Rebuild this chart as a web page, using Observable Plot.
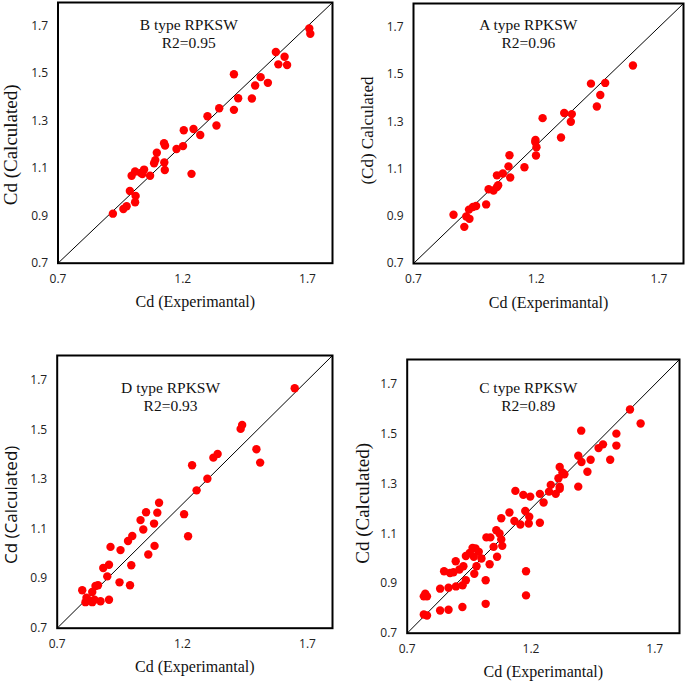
<!DOCTYPE html>
<html><head><meta charset="utf-8">
<script src="https://cdn.jsdelivr.net/npm/d3@7"></script>
<script src="https://cdn.jsdelivr.net/npm/@observablehq/plot@0.6"></script>
<style>
body{margin:0;background:#fff}
#chart{position:relative;width:685px;height:685px;overflow:hidden;background:#fff}
#chart svg{position:absolute}
</style>
</head><body><div id="chart"></div>
<script>
// ---- data ----
const bExp  = [0.920,0.962,0.975,0.988,0.995,1.009,1.011,1.009,1.031,1.045,1.038,1.069,1.085,1.090,1.096,1.125,1.129,1.126,1.128,1.175,1.201,1.204,1.243,1.235,1.270,1.299,1.335,1.346,1.405,1.405,1.422,1.477,1.490,1.512,1.541,1.573,1.583,1.608,1.618,1.707,1.711];
const bCalc = [0.909,0.929,0.940,1.005,1.069,1.087,0.984,0.957,1.081,1.095,1.076,1.069,1.122,1.135,1.166,1.206,1.196,1.125,1.093,1.182,1.194,1.261,1.266,1.077,1.241,1.320,1.281,1.354,1.497,1.347,1.396,1.395,1.450,1.485,1.461,1.591,1.539,1.571,1.536,1.690,1.668];

const aExp  = [0.863,0.907,0.915,0.926,0.928,0.942,0.955,0.996,1.006,1.026,1.040,1.045,1.040,1.064,1.087,1.091,1.094,1.152,1.197,1.196,1.201,1.199,1.226,1.301,1.314,1.345,1.341,1.423,1.481,1.447,1.461,1.594];
const aCalc = [0.906,0.855,0.899,0.928,0.889,0.939,0.943,0.950,1.014,1.009,1.023,1.031,1.073,1.081,1.111,1.158,1.064,1.107,1.223,1.214,1.192,1.157,1.315,1.233,1.337,1.332,1.300,1.461,1.464,1.364,1.413,1.538];

const dExp  = [0.800,0.813,0.817,0.827,0.840,0.840,0.849,0.853,0.863,0.873,0.884,0.900,0.907,0.907,0.913,0.949,0.953,0.983,0.991,0.996,1.000,1.033,1.044,1.064,1.087,1.089,1.223,1.055,1.100,1.107,1.207,1.239,1.257,1.300,1.324,1.341,1.433,1.439,1.496,1.511,1.649];
const dCalc = [0.853,0.805,0.823,0.812,0.846,0.805,0.815,0.870,0.873,0.809,0.943,0.909,0.956,0.815,1.028,0.885,1.015,1.052,0.873,0.954,1.072,1.136,1.098,0.997,1.122,1.032,1.071,1.168,1.166,1.206,1.160,1.357,1.256,1.303,1.388,1.403,1.504,1.520,1.422,1.368,1.668];

const cExp  = [1.137,1.169,1.197,1.236,1.280,1.300,1.251,1.113,1.080,1.177,1.193,1.133,1.157,1.191,1.236,1.060,1.073,1.020,1.036,1.080,1.049,1.084,0.964,0.976,0.989,0.953,0.937,0.969,1.000,0.896,1.063,1.033,0.927,0.980,0.911,0.887,0.849,0.873,0.971,0.937,1.017,0.924,0.897,0.867,0.833,1.180,0.773,0.767,0.780,1.180,0.833,0.867,0.923,1.017,0.767,0.780,1.600,1.643,1.403,1.545,1.491,1.473,1.545,1.391,1.404,1.441,1.520,1.428,1.316,1.327,1.335,1.311,1.316,1.316,1.391,1.273];
const cCalc = [1.272,1.256,1.249,1.260,1.296,1.260,1.225,1.185,1.162,1.191,1.168,1.151,1.137,1.141,1.144,1.114,1.101,1.085,1.085,1.077,1.047,1.051,1.043,1.041,1.027,1.023,1.010,1.007,1.000,0.989,1.007,0.977,0.969,0.969,0.956,0.945,0.949,0.942,0.939,0.913,0.913,0.893,0.888,0.883,0.879,0.949,0.859,0.848,0.848,0.852,0.791,0.794,0.805,0.818,0.775,0.771,1.599,1.543,1.514,1.502,1.459,1.444,1.454,1.413,1.388,1.397,1.397,1.349,1.368,1.346,1.339,1.323,1.289,1.280,1.289,1.269];

const xTicks = [0.7, 1.2, 1.7];
const yTicks = [0.7, 0.9, 1.1, 1.3, 1.5, 1.7];
const axisDomain = [0.7, 1.8];
const panelTitles = ["B type RPKSW", "A type RPKSW", "D type RPKSW", "C type RPKSW"];
const r2Labels = ["R2=0.95", "R2=0.96", "R2=0.93", "R2=0.89"];
const xTitle = "Cd (Experimantal)";
const yTitles = ["Cd (Calculated)", "(Cd) Calculated", "Cd (Calculated)", "Cd (Calculated)"];

// ---- layout ----
const SERIF = "'Liberation Serif','Times New Roman',serif";
const SANS = "'Open Sans','Noto Sans',sans-serif";
const panels = [
  {exp: bExp, calc: bCalc, left: 0,   top: 0,   width: 342, height: 322, ml: 57.5, mr: 10, mt: 2,  mb: 59.3, tx: 1.224, ty: 1.703, yDx: -47.5, yDy: 12,  ySize: 19, yFont: SERIF},
  {exp: aExp, calc: aCalc, left: 342, top: 0,   width: 343, height: 322, ml: 71,   mr: 2,  mt: 3,  mb: 59,   tx: 1.168, ty: 1.707, yDx: -46,   yDy: -3,  ySize: 17, yFont: SERIF},
  {exp: dExp, calc: dCalc, left: 0,   top: 322, width: 342, height: 363, ml: 56.7, mr: 10, mt: 33, mb: 57.3, tx: 1.153, ty: 1.670, yDx: -45.5, yDy: 13,  ySize: 17, yFont: SANS},
  {exp: cExp, calc: cCalc, left: 342, top: 322, width: 343, height: 363, ml: 64.7, mr: 6,  mt: 37, mb: 52.3, tx: 1.189, ty: 1.687, yDx: -44.7, yDy: 7,   ySize: 19, yFont: SERIF}
];

const chart = document.getElementById("chart");
panels.forEach((p, i) => {
  const pts = p.exp.map((e, k) => ({exp: e, calc: p.calc[k]}));
  const svg = Plot.plot({
    width: p.width, height: p.height,
    marginLeft: p.ml, marginRight: p.mr, marginTop: p.mt, marginBottom: p.mb,
    x: {domain: axisDomain, label: null},
    y: {domain: axisDomain, label: null},
    style: {background: "transparent", overflow: "visible"},
    marks: [
      Plot.link([axisDomain], {x1: d => d[0], y1: d => d[0], x2: d => d[1], y2: d => d[1], stroke: "#000", strokeWidth: 1}),
      Plot.dot(pts, {x: "exp", y: "calc", r: 4.2, fill: "#ff0000", stroke: "none"}),
      Plot.frame({stroke: "#000", strokeWidth: 2}),
      Plot.axisX(xTicks, {tickSize: 0, tickPadding: 11, fontSize: 12, fontFamily: SANS, fill: "#222", label: null, tickFormat: d => d.toFixed(1)}),
      Plot.axisY(yTicks, {tickSize: 0, tickPadding: 10, fontSize: 12, fontFamily: SANS, fill: "#222", label: null, tickFormat: d => d.toFixed(1)}),
      Plot.text([panelTitles[i]], {x: () => p.tx, y: () => p.ty, text: d => d, fontSize: 15.5, fontFamily: SERIF, fill: "#111"}),
      Plot.text([r2Labels[i]], {x: () => p.tx, y: () => p.ty, dy: 18, text: d => d, fontSize: 15.5, fontFamily: SERIF, fill: "#111"}),
      Plot.text([xTitle], {frameAnchor: "bottom", dy: 44, text: d => d, fontSize: 16, fontFamily: SERIF, fill: "#111"}),
      Plot.text([yTitles[i]], {frameAnchor: "left", textAnchor: "middle", lineAnchor: "middle", dx: p.yDx, dy: p.yDy, rotate: -90, text: d => d, fontSize: p.ySize, fontFamily: p.yFont, fill: "#111"})
    ]
  });
  svg.style.left = p.left + "px";
  svg.style.top = p.top + "px";
  chart.appendChild(svg);
});
</script>
</body></html>
